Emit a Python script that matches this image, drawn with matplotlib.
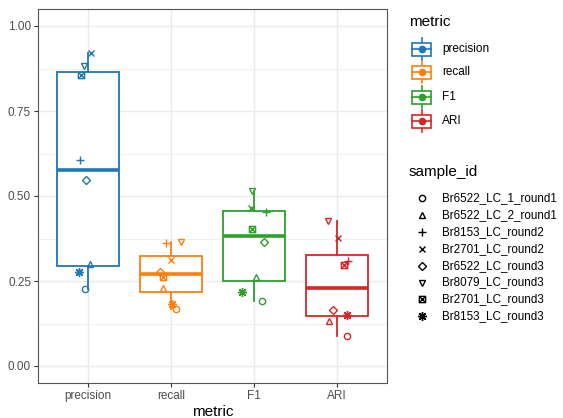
import numpy as np
import matplotlib
matplotlib.use("Agg")
import matplotlib.pyplot as plt
from matplotlib.path import Path
from matplotlib.patches import Rectangle

plt.rc("font", family="Liberation Sans")

# data
metrics = ["precision", "recall", "F1", "ARI"]
samples = ["Br6522_LC_1_round1", "Br6522_LC_2_round1", "Br8153_LC_round2",
           "Br2701_LC_round2", "Br6522_LC_round3", "Br8079_LC_round3",
           "Br2701_LC_round3", "Br8153_LC_round3"]
precision = [0.227, 0.300, 0.606, 0.921, 0.548, 0.883, 0.857, 0.277]
recall = [0.169, 0.230, 0.362, 0.312, 0.277, 0.364, 0.262, 0.181]
f1 = [0.192, 0.261, 0.452, 0.466, 0.364, 0.516, 0.402, 0.219]
ari = [0.088, 0.133, 0.310, 0.376, 0.164, 0.427, 0.297, 0.150]
values = [precision, recall, f1, ari]

# horizontal jitter (category units), as seen in the picture
jitter = [
    [-0.04, 0.02, -0.10, 0.04, -0.02, -0.05, -0.08, -0.11],
    [0.06, -0.10, -0.06, 0.00, -0.13, 0.12, -0.10, 0.01],
    [0.09, 0.02, 0.14, -0.04, 0.12, -0.03, -0.03, -0.14],
    [0.12, -0.10, 0.13, 0.01, -0.05, -0.11, 0.08, 0.12],
]

colors = ["#1F77B4", "#FF7F0E", "#2CA02C", "#D62728"]

# ggplot shapes 1..8
sq_x = Path([(-1, -1), (1, -1), (1, 1), (-1, 1), (-1, -1),
             (-1, -1), (1, 1), (-1, 1), (1, -1)],
            [Path.MOVETO, Path.LINETO, Path.LINETO, Path.LINETO, Path.CLOSEPOLY,
             Path.MOVETO, Path.LINETO, Path.MOVETO, Path.LINETO])
shapes = ["o", "^", "+", "x", "D", "v", sq_x, (8, 2, 0)]
msizes = [4.5, 5, 6, 5, 4.5, 5, 4.5, 6.5]

fig = plt.figure(figsize=(5.63, 4.18), dpi=100)
ax = fig.add_axes([38 / 563, 35 / 418, 349 / 563, 374 / 418])

pos = np.arange(1, len(metrics) + 1)
for i, (v, c) in enumerate(zip(values, colors)):
    ax.boxplot(v, positions=[pos[i]], widths=0.75, whis=10, showfliers=False,
               showcaps=False, patch_artist=True,
               boxprops=dict(facecolor="white", edgecolor=c, linewidth=1.3),
               whiskerprops=dict(color=c, linewidth=1.3),
               medianprops=dict(color=c, linewidth=2.6),
               zorder=2)
    for j, s in enumerate(samples):
        ax.plot(pos[i] + jitter[i][j], v[j], linestyle="none", marker=shapes[j],
                markersize=msizes[j], markerfacecolor="none", markeredgecolor=c,
                markeredgewidth=1.0, zorder=3)

ax.set_xlim(0.4, 4.6)
ax.set_ylim(-0.05, 1.05)
ax.set_xticks(pos)
ax.set_xticklabels(metrics)
ax.set_yticks([0, 0.25, 0.5, 0.75, 1.0])
ax.set_yticklabels(["0.00", "0.25", "0.50", "0.75", "1.00"])
ax.set_yticks([0.125, 0.375, 0.625, 0.875], minor=True)
ax.grid(which="major", color="#EBEBEB", linewidth=1.0, zorder=0)
ax.grid(which="minor", axis="y", color="#EBEBEB", linewidth=0.5, zorder=0)
ax.set_axisbelow(True)
ax.tick_params(axis="both", which="major", length=3, width=0.8, color="#333333",
               labelcolor="#4D4D4D", labelsize=8.5, pad=2)
ax.tick_params(axis="both", which="minor", length=0)
for sp in ax.spines.values():
    sp.set_color("#555555")
    sp.set_linewidth(0.8)
ax.set_xlabel("metric", fontsize=11, labelpad=2)

# legends drawn in pixel coordinates
lg = fig.add_axes([0, 0, 1, 1], zorder=5)
lg.set_xlim(0, 563)
lg.set_ylim(418, 0)
lg.axis("off")
lg.patch.set_alpha(0)

lg.text(409, 22, "metric", fontsize=11, va="center", ha="left")
key_y = [49, 72, 97, 121]
for m, c, y in zip(metrics, colors, key_y):
    lg.plot([421.5, 421.5], [y - 11, y + 11], color=c, lw=1.2)
    lg.add_patch(Rectangle((412, y - 6.5), 19, 13, facecolor="white",
                           edgecolor=c, lw=1.2, zorder=3))
    lg.plot([412, 431], [y, y], color=c, lw=1.2, zorder=4)
    lg.plot([421.5], [y], marker="o", markersize=4.5, color=c, zorder=5)
    lg.text(442, y, m, fontsize=8.5, va="center", ha="left")

lg.text(409, 172, "sample_id", fontsize=11, va="center", ha="left")
for j, s in enumerate(samples):
    y = 198 + j * 16.9
    lg.plot([422], [y], linestyle="none", marker=shapes[j], markersize=msizes[j],
            markerfacecolor="none", markeredgecolor="black", markeredgewidth=1.0)
    lg.text(442, y, s, fontsize=8.4, va="center", ha="left")

fig.savefig("out.png", dpi=100)
